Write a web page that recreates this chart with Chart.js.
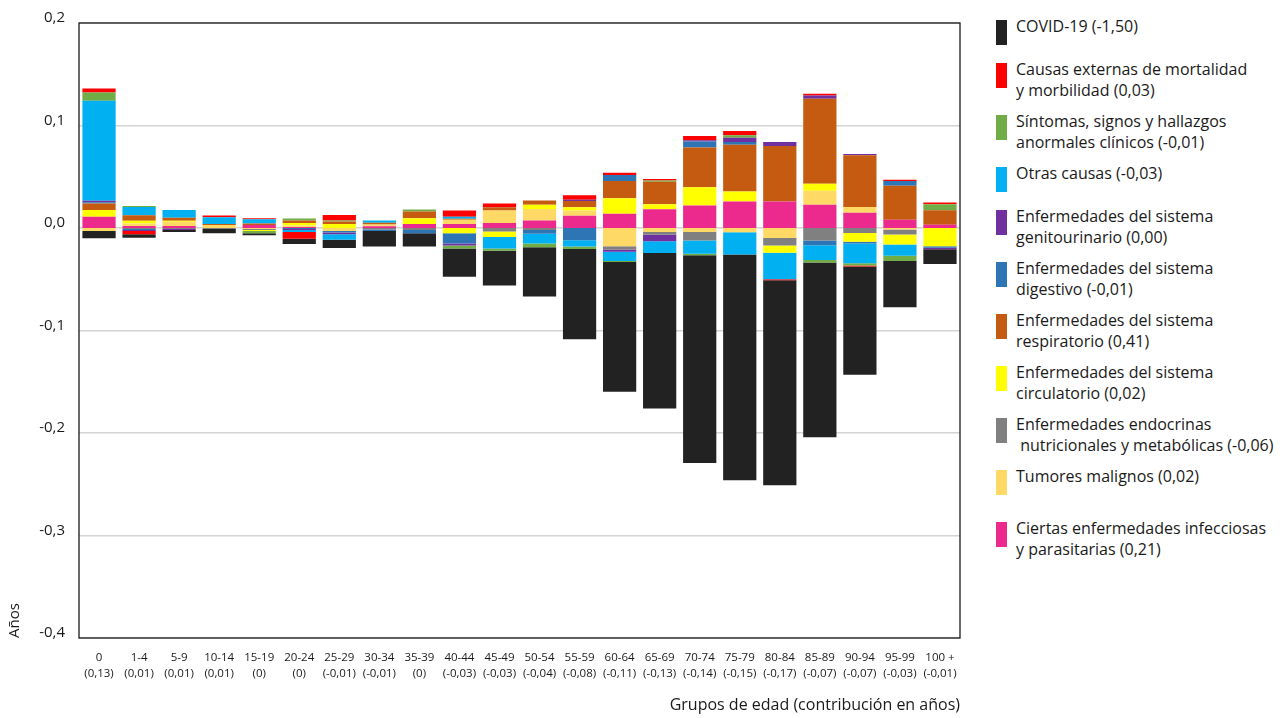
<!DOCTYPE html>
<html lang="es">
<head>
<meta charset="utf-8">
<title>Contribución por causa y grupo de edad</title>
<script src="https://cdn.jsdelivr.net/npm/chart.js@4.4.1/dist/chart.umd.min.js"></script>
<style>
  html, body { margin: 0; padding: 0; background: #fff; }
  body { width: 1282px; height: 718px; position: relative; overflow: hidden;
         font-family: "Open Sans", sans-serif; color: #1a1a1a; }
  #wrap { position: absolute; left: 0; top: 0; width: 970px; height: 718px; }
  #legend { position: absolute; left: 996px; top: 20px; width: 286px; }
  #legend .item { position: relative; height: 43px; }
  #legend .item.two { height: 52px; }
  #legend .box { position: absolute; left: 0; top: 0; width: 11px; height: 25px; }
  #legend .txt { position: absolute; left: 20px; top: -4px; font-size: 16px; line-height: 21px; white-space: nowrap; }
</style>
</head>
<body>
<div id="wrap"><canvas id="chart" width="970" height="718"></canvas></div>
<div id="legend"></div>

<script>
/* ---- Data ---- */
const AGE_GROUPS = ["0","1-4","5-9","10-14","15-19","20-24","25-29","30-34","35-39","40-44","45-49",
  "50-54","55-59","60-64","65-69","70-74","75-79","80-84","85-89","90-94","95-99","100 +"];
const AGE_TOTALS = ["(0,13)","(0,01)","(0,01)","(0,01)","(0)","(0)","(-0,01)","(-0,01)","(0)","(-0,03)","(-0,03)",
  "(-0,04)","(-0,08)","(-0,11)","(-0,13)","(-0,14)","(-0,15)","(-0,17)","(-0,07)","(-0,07)","(-0,03)","(-0,01)"];

const infecciosas  = [0.011, 0.002, 0.002, 0, 0.003, 0.001, 0, 0.0017, 0.004, 0.004, 0.005, 0.0072, 0.012, 0.014, 0.0184, 0.022, 0.0258, 0.0258, 0.0227, 0.015, 0.008, 0.0032];
const tumores      = [-0.003, 0.0025, 0.004, 0.003, -0.001, 0.0015, -0.003, 0.0017, 0, 0.004, 0.012, 0.0113, 0.005, -0.0177, -0.0039, -0.0039, -0.0042, -0.0097, 0.0136, 0.0055, -0.0015, 0];
const endocrinas   = [0, -0.001, -0.001, -0.001, -0.001, 0, 0, -0.0015, -0.002, 0, -0.0033, -0.002, 0, -0.0032, -0.0026, -0.0084, 0, -0.0074, -0.0123, -0.0048, -0.0048, 0];
const circulatorio = [0.0065, 0.0025, 0.001, 0, -0.001, 0.0025, 0.004, 0, 0.0055, -0.005, -0.0055, 0.0043, 0.0033, 0.0151, 0.0048, 0.0177, 0.0097, -0.0071, 0.0068, -0.0087, -0.0097, -0.0177];
const respiratorio = [0.0064, 0.0055, 0.003, 0.001, 0.0015, 0.0023, 0.0023, 0.0017, 0.0065, 0.001, 0.0033, 0.004, 0.006, 0.0168, 0.022, 0.0388, 0.0458, 0.0543, 0.083, 0.0504, 0.0333, 0.014];
const digestivo    = [0.0013, -0.001, 0, 0, 0, -0.001, -0.0015, -0.0015, -0.003, -0.01, 0, -0.0035, -0.012, 0.0058, 0, 0.0058, 0.0026, 0, -0.0045, -0.0016, 0.0045, -0.0015];
const genitourin   = [0.0013, -0.001, -0.001, 0, 0, -0.001, -0.0015, 0, 0, -0.002, 0, 0, 0.0013, -0.0023, -0.0065, 0.0013, 0.0042, 0.0039, 0.0032, 0.0013, 0, -0.0015];
const otras        = [0.0976, 0.008, 0.0075, 0.0065, 0.004, -0.002, -0.0055, 0.0023, 0, 0.002, -0.0113, -0.0097, -0.006, -0.009, -0.0113, -0.0129, -0.0216, -0.0258, -0.0145, -0.0194, -0.011, 0];
const sintomas     = [0.008, 0.001, 0, 0, -0.002, 0.002, 0.001, 0, 0.002, -0.003, -0.002, -0.0036, -0.0026, -0.001, 0.0012, -0.0013, 0.0023, 0, -0.0023, -0.002, -0.0052, 0.006];
const externas     = [0.004, -0.003, 0, 0.0017, 0.001, -0.0065, 0.0055, 0, 0, 0.006, 0.0037, 0, 0.0043, 0.0023, 0.0013, 0.0042, 0.0042, -0.001, 0.0016, -0.001, 0.0013, 0.0016];
const covid        = [-0.007, -0.0035, -0.002, -0.004, -0.002, -0.005, -0.008, -0.015, -0.013, -0.0275, -0.034, -0.048, -0.088, -0.1266, -0.1518, -0.2028, -0.2203, -0.2, -0.1705, -0.1056, -0.0452, -0.0145];

// stack order: first one sits next to zero
const SERIES = [
  { label: ["Ciertas enfermedades infecciosas", "y parasitarias (0,21)"], data: infecciosas, color: "#ec2a8e" },
  { label: ["Tumores malignos (0,02)"], data: tumores, color: "#ffd966", tall: true },
  { label: ["Enfermedades endocrinas", "\u00a0nutricionales y metabólicas (-0,06)"], data: endocrinas, color: "#808080" },
  { label: ["Enfermedades del sistema", "circulatorio (0,02)"], data: circulatorio, color: "#ffff00" },
  { label: ["Enfermedades del sistema", "respiratorio (0,41)"], data: respiratorio, color: "#c55a11" },
  { label: ["Enfermedades del sistema", "digestivo (-0,01)"], data: digestivo, color: "#2e75b6" },
  { label: ["Enfermedades del sistema", "genitourinario (0,00)"], data: genitourin, color: "#7030a0" },
  { label: ["Otras causas (-0,03)"], data: otras, color: "#00b0f0" },
  { label: ["Síntomas, signos y hallazgos", "anormales clínicos (-0,01)"], data: sintomas, color: "#70ad47" },
  { label: ["Causas externas de mortalidad", "y morbilidad (0,03)"], data: externas, color: "#ff0000" },
  { label: ["COVID-19 (-1,50)"], data: covid, color: "#222222" },
];

/* ---- Chart ---- */
Chart.defaults.font.family = "'Open Sans', sans-serif";
Chart.defaults.color = "#1a1a1a";

const frame = {
  id: "frame",
  afterDraw(chart) {
    const { ctx, chartArea: a } = chart;
    ctx.save();
    ctx.strokeStyle = "#1a1a1a";
    ctx.lineWidth = 1.3;
    ctx.strokeRect(a.left, a.top, a.right - a.left, a.bottom - a.top);
    ctx.restore();
  }
};

new Chart(document.getElementById("chart"), {
  type: "bar",
  data: {
    labels: AGE_GROUPS.map((g, i) => [g, AGE_TOTALS[i]]),
    datasets: SERIES.map(s => ({
      label: s.label.join(" "),
      data: s.data,
      backgroundColor: s.color,
      borderWidth: 0,
      categoryPercentage: 1,
      barPercentage: 0.83
    }))
  },
  options: {
    responsive: false,
    animation: false,
    layout: { padding: { top: 20, right: 10, left: 0, bottom: 0 } },
    plugins: { legend: { display: false }, tooltip: { enabled: false } },
    scales: {
      x: {
        stacked: true,
        grid: { display: false, drawTicks: false },
        border: { display: false },
        ticks: { font: { size: 11.5, lineHeight: 1.4 }, padding: 12, maxRotation: 0, autoSkip: false },
        title: { display: true, text: "Grupos de edad (contribución en años)", align: "end",
                 font: { size: 16 }, padding: { top: 4, bottom: 3 } },
        afterFit: s => { s.height = 80; }
      },
      y: {
        stacked: true,
        min: -0.4, max: 0.2,
        grid: { color: "#d4d4d4", lineWidth: 1.5, drawTicks: false },
        border: { display: false },
        ticks: { stepSize: 0.1, padding: 14, labelOffset: -5, font: { size: 15 },
                 callback: v => v.toFixed(1).replace(".", ",") },
        title: { display: true, text: "Años", align: "start", font: { size: 15 }, padding: { top: 6, bottom: 0 } },
        afterFit: s => { s.width = 79; }
      }
    }
  },
  plugins: [frame]
});

/* ---- Legend (reverse of stack order) ---- */
document.getElementById("legend").innerHTML = SERIES.slice().reverse().map(s => `
  <div class="item${s.label.length > 1 || s.tall ? " two" : ""}">
    <div class="box" style="background:${s.color}"></div>
    <div class="txt">${s.label.join("<br>")}</div>
  </div>`).join("");
</script>
</body>
</html>
